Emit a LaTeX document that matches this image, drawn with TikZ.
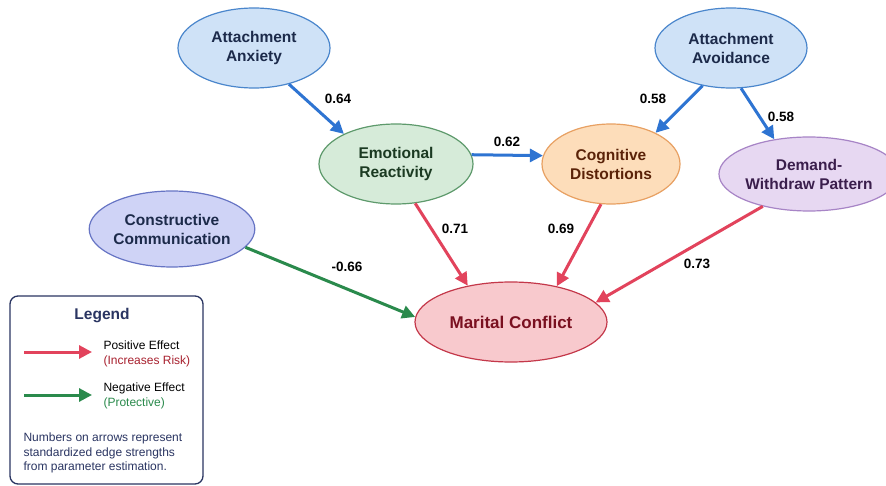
\documentclass[tikz,border=0pt]{standalone}
\usepackage{fontspec}
\setmainfont{Liberation Sans}
\usetikzlibrary{arrows.meta,shapes.geometric}
\definecolor{bluefill}{HTML}{CFE2F7}
\definecolor{blueline}{HTML}{4A86CC}
\definecolor{bluetext}{HTML}{1C2A4A}
\definecolor{greenfill}{HTML}{D6EBD9}
\definecolor{greenline}{HTML}{5E9A6C}
\definecolor{greentext}{HTML}{1B3A22}
\definecolor{orangefill}{HTML}{FDDDBA}
\definecolor{orangeline}{HTML}{E8A062}
\definecolor{orangetext}{HTML}{5A2208}
\definecolor{purplefill}{HTML}{E7D8F2}
\definecolor{purpleline}{HTML}{A784C6}
\definecolor{purpletext}{HTML}{3A1E4C}
\definecolor{lavfill}{HTML}{CFD3F6}
\definecolor{lavline}{HTML}{6674C4}
\definecolor{pinkfill}{HTML}{F8C9CD}
\definecolor{pinkline}{HTML}{C4384A}
\definecolor{pinktext}{HTML}{7A1020}
\definecolor{arrblue}{HTML}{2E74D2}
\definecolor{arrred}{HTML}{E2435C}
\definecolor{arrgreen}{HTML}{2A8A4C}
\definecolor{legline}{HTML}{2A3562}
\definecolor{riskred}{HTML}{A8202E}
\tikzset{
  var/.style={ellipse, draw, line width=1.2pt, inner sep=0pt, align=center,
    font=\fontsize{15.5}{19}\selectfont\bfseries},
  arr/.style={line width=3pt, -{Triangle[length=13pt,width=13pt]}},
  posarr/.style={arr, arrred},
  negarr/.style={arr, arrgreen},
  medarr/.style={arr, arrblue},
  wlabel/.style={font=\fontsize{13.5}{15}\selectfont\bfseries, text=black},
  legtext/.style={font=\fontsize{12}{14.5}\selectfont, anchor=west, align=left},
}
\begin{document}
\begin{tikzpicture}[x=1pt,y=-1pt]
\useasboundingbox[fill=white] (0,0) rectangle (886,486);
% nodes
\node[var, fill=bluefill, draw=blueline, text=bluetext, minimum width=152pt, minimum height=80pt] (anx) at (254,48) {Attachment\\Anxiety};
\node[var, fill=bluefill, draw=blueline, text=bluetext, minimum width=152pt, minimum height=80pt] (avo) at (731,48) {Attachment\\Avoidance};
\node[var, fill=greenfill, draw=greenline, text=greentext, minimum width=154pt, minimum height=80pt] (emo) at (396,164) {Emotional\\Reactivity};
\node[var, fill=orangefill, draw=orangeline, text=orangetext, minimum width=138pt, minimum height=80pt] (cog) at (611,164) {Cognitive\\Distortions};
\node[var, fill=purplefill, draw=purpleline, text=purpletext, minimum width=154pt, minimum height=74pt] (dem) at (809,174) {Demand-\\Withdraw Pattern};
\node[var, fill=lavfill, draw=lavline, text=bluetext, minimum width=152pt, minimum height=76pt] (con) at (172,229) {Constructive\\Communication};
\node[var, fill=pinkfill, draw=pinkline, text=pinktext, minimum width=192pt, minimum height=80pt, font=\fontsize{17}{19}\selectfont\bfseries] (mar) at (511,322) {Marital Conflict};
% connectors
\draw[medarr] (anx.-46.5) -- (emo.150.5);
\draw[medarr] (avo.-127.3) -- (cog.35.2);
\draw[medarr] (avo.-76.7) -- (dem.135.8);
\draw[medarr] (emo.7) -- (cog.173);
\draw[posarr] (emo.-64.6) -- (mar.140.9);
\draw[posarr] (cog.-104) -- (mar.38.5);
\draw[posarr] (dem.-145.4) -- (mar.13);
\draw[negarr] (con.-14.6) -- (mar.177.6);
% weights
\node[wlabel] (w1) at (338,99) {0.64};
\node[wlabel] (w2) at (507,142) {0.62};
\node[wlabel] (w3) at (653,99) {0.58};
\node[wlabel] (w4) at (781,117) {0.58};
\node[wlabel] (w5) at (455,229) {0.71};
\node[wlabel] (w6) at (561,229) {0.69};
\node[wlabel] (w7) at (347,267) {-0.66};
\node[wlabel] (w8) at (697,264) {0.73};
% legend
\node[draw=legline, line width=1.3pt, rounded corners=8pt, fill=white, minimum width=193pt, minimum height=188pt] (leg) at (106.5,390) {};
\node[font=\fontsize{15.5}{17}\selectfont\bfseries, text=legline] (legt) at (102,316) {Legend};
\coordinate (r1) at (24,352);
\coordinate (r2) at (92,352);
\draw[posarr] (r1) -- (r2);
\node[legtext] (lp) at (100,354) {Positive Effect\\\textcolor{riskred}{(Increases Risk)}};
\coordinate (g1) at (24,395);
\coordinate (g2) at (92,395);
\draw[negarr] (g1) -- (g2);
\node[legtext] (ln) at (100,396) {Negative Effect\\\textcolor{arrgreen}{(Protective)}};
\node[legtext, text=legline] (lf) at (20,453) {Numbers on arrows represent\\standardized edge strengths\\from parameter estimation.};
\end{tikzpicture}
\end{document}
